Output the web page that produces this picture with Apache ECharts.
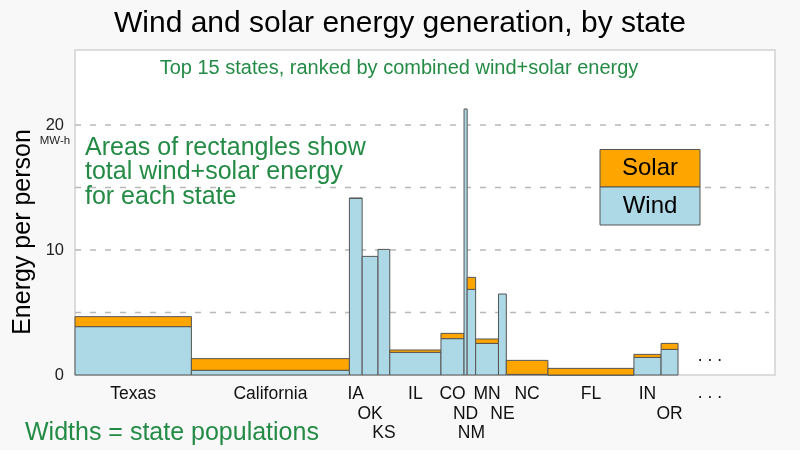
<!DOCTYPE html>
<html><head><meta charset="utf-8">
<script src="https://cdn.jsdelivr.net/npm/echarts@6/dist/echarts.min.js"></script>
<style>html,body{margin:0;padding:0;background:#f8f8f8;}#c{width:800px;height:450px;}</style>
</head><body><div id="c"></div>
<script>
// ---- data ----
const states = ['Texas','California','IA','OK','KS','IL','CO','ND','NM','MN','NE','NC','FL','IN','OR'];
const population = [29.1,39.5,3.19,3.96,2.94,12.8,5.77,0.78,2.12,5.71,1.96,10.4,21.5,6.79,4.24]; // millions (bar widths)
const wind  = [3.87,0.38,14.13,9.49,10.05,1.81,2.91,21.28,6.85,2.53,6.48,0.05,0,1.41,2.05];   // MW-h per person
const solar = [0.80,0.93,0.02,0,0,0.19,0.42,0,0.96,0.35,0,1.12,0.53,0.24,0.48];             // MW-h per person
const labelRow = [0,0,0,1,2,0,0,1,2,0,1,0,0,0,1];
const yTickLabels = [0,10,20];
const gridValues = [5,10,15,20];
const xMax = 175;   // total population range of the axis (room for the remaining states)
const yMax = 26;

// ---- styles ----
const FONT = '"Liberation Sans", Arial, sans-serif';
const GREEN = '#238B45';
const WIND_C = '#ADD8E6', SOLAR_C = '#FFA500', EDGE = '#555';

// build cumulative x positions
const barData = [];
let acc = 0;
states.forEach((s, i) => {
  barData.push([acc, acc + population[i], wind[i], solar[i], i]);
  acc += population[i];
});

const chart = echarts.init(document.getElementById('c'), null, {renderer: 'canvas'});
chart.setOption({
  backgroundColor: '#f8f8f8',
  animation: false,
  grid: {left: 75, right: 25, top: 50, bottom: 75, show: true, backgroundColor: '#fff', borderColor: '#dcdcdc', borderWidth: 2},
  xAxis: {type: 'value', min: 0, max: xMax, show: false},
  yAxis: {
    type: 'value', min: 0, max: yMax, interval: 5,
    axisLine: {show: false}, axisTick: {show: false}, splitLine: {show: false},
    axisLabel: {
      margin: 11, fontSize: 16.5, color: '#222', fontFamily: FONT,
      formatter: v => yTickLabels.indexOf(v) >= 0 ? String(v) : ''
    }
  },
  series: [
    {
      type: 'custom', z: 1, silent: true,
      data: gridValues.map(v => [0, v]),
      encode: {x: 0, y: 1},
      renderItem: (params, api) => {
        const p0 = api.coord([0, api.value(1)]);
        const p1 = api.coord([xMax, api.value(1)]);
        return {type: 'line', shape: {x1: p0[0], y1: p0[1], x2: p1[0] - 6, y2: p1[1]},
          style: {stroke: '#b8b8b8', lineWidth: 1.5, lineDash: [6, 9]}};
      }
    },
    {
      type: 'custom', z: 2, silent: true, clip: false,
      data: barData,
      encode: {x: [0, 1], y: 2},
      renderItem: (params, api) => {
        const x0 = api.value(0), x1 = api.value(1), w = api.value(2), s = api.value(3), idx = api.value(4);
        const pBase = api.coord([x0, 0]);
        const pWind = api.coord([x1, w]);
        const pTot = api.coord([x1, w + s]);
        const children = [];
        children.push({type: 'rect',
          shape: {x: pBase[0], y: pWind[1], width: pWind[0] - pBase[0], height: pBase[1] - pWind[1]},
          style: {fill: WIND_C, stroke: EDGE, lineWidth: 1}});
        if (s > 0) {
          children.push({type: 'rect',
            shape: {x: pBase[0], y: pTot[1], width: pWind[0] - pBase[0], height: pWind[1] - pTot[1]},
            style: {fill: SOLAR_C, stroke: EDGE, lineWidth: 1}});
        }
        children.push({type: 'text', x: (pBase[0] + pWind[0]) / 2, y: pBase[1] + 19.5 + labelRow[idx] * 19.5,
          style: {text: states[idx], textAlign: 'center', textVerticalAlign: 'middle', font: '17.5px ' + FONT, fill: '#111'}});
        return {type: 'group', children};
      }
    }
  ],
  graphic: [
    {type: 'text', x: 400, y: 24, style: {text: 'Wind and solar energy generation, by state', textAlign: 'center', textVerticalAlign: 'middle', font: '30px ' + FONT, fill: '#000'}},
    {type: 'text', x: 399, y: 68, z: 10, style: {text: 'Top 15 states, ranked by combined wind+solar energy', textAlign: 'center', textVerticalAlign: 'middle', font: '20px ' + FONT, fill: GREEN}},
    {type: 'text', x: 85, y: 148, z: 10, style: {text: 'Areas of rectangles show', textAlign: 'left', textVerticalAlign: 'middle', font: '25px ' + FONT, fill: GREEN}},
    {type: 'text', x: 85, y: 172.5, z: 10, style: {text: 'total wind+solar energy', textAlign: 'left', textVerticalAlign: 'middle', font: '25px ' + FONT, fill: GREEN}},
    {type: 'text', x: 85, y: 197, z: 10, style: {text: 'for each state', textAlign: 'left', textVerticalAlign: 'middle', font: '25px ' + FONT, fill: GREEN}},
    {type: 'text', x: 25, y: 433, style: {text: 'Widths = state populations', textAlign: 'left', textVerticalAlign: 'middle', font: '25px ' + FONT, fill: GREEN}},
    {type: 'text', x: 23, y: 232, rotation: Math.PI / 2, style: {text: 'Energy per person', textAlign: 'center', textVerticalAlign: 'middle', font: '25px ' + FONT, fill: '#000'}},
    {type: 'text', x: 55, y: 141, style: {text: 'MW-h', textAlign: 'center', textVerticalAlign: 'middle', font: '11.5px ' + FONT, fill: '#222'}},
    {type: 'text', x: 710, y: 356, z: 10, style: {text: '. . .', textAlign: 'center', textVerticalAlign: 'middle', font: '17.5px ' + FONT, fill: '#111'}},
    {type: 'text', x: 710, y: 393, style: {text: '. . .', textAlign: 'center', textVerticalAlign: 'middle', font: '17.5px ' + FONT, fill: '#111'}},
    {type: 'rect', z: 10, shape: {x: 600, y: 149.5, width: 100, height: 37.5}, style: {fill: SOLAR_C, stroke: EDGE, lineWidth: 1}},
    {type: 'rect', z: 10, shape: {x: 600, y: 187, width: 100, height: 38}, style: {fill: WIND_C, stroke: EDGE, lineWidth: 1}},
    {type: 'text', x: 650, y: 168.5, z: 11, style: {text: 'Solar', textAlign: 'center', textVerticalAlign: 'middle', font: '24px ' + FONT, fill: '#000'}},
    {type: 'text', x: 650, y: 206, z: 11, style: {text: 'Wind', textAlign: 'center', textVerticalAlign: 'middle', font: '24px ' + FONT, fill: '#000'}}
  ]
});
</script>
</body></html>
